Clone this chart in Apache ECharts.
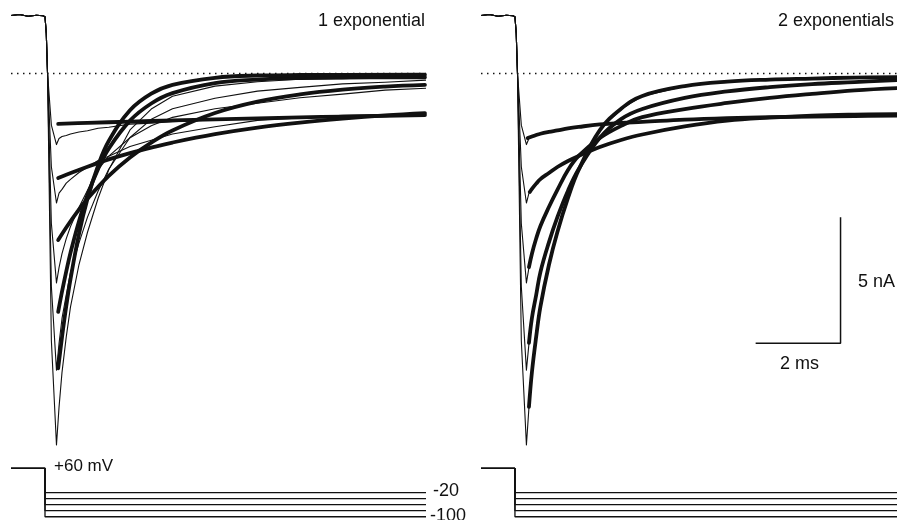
<!DOCTYPE html>
<html>
<head>
<meta charset="utf-8">
<script src="https://cdn.jsdelivr.net/npm/echarts@6/dist/echarts.min.js"></script>
<style>
  html, body { margin: 0; background: #fff; }
  #chart { width: 897px; height: 520px; }
</style>
</head>
<body>
<div id="chart"></div>
<script>
// time in ms (0 = voltage step), current in nA, voltage in mV
const holdingMv = 60
const stepLevels = [-20, -40, -60, -80, -100]

// shared outward current at +60 mV and the fast drop after the step
const baselineCurrent = [[-0.8, 2.30], [-0.6, 2.34], [-0.4, 2.27], [-0.2, 2.31], [-0.05, 2.29], [0, 2.25], [0.03, 1.6], [0.06, 0]]

// recorded tail currents (thin traces)
const rawM20 = [[0.15, -2.05], [0.27, -2.82], [0.33, -2.58], [0.4, -2.50], [0.5, -2.46], [0.6, -2.40], [0.8, -2.32], [1.0, -2.27], [1.25, -2.17], [1.5, -2.13], [2, -2.01], [2.5, -1.97], [3, -1.91], [4, -1.84], [5, -1.76], [6, -1.74], [7, -1.70], [8, -1.70], [9, -1.66]]
const rawM40 = [[0.15, -3.70], [0.27, -5.14], [0.33, -4.75], [0.4, -4.60], [0.5, -4.35], [0.6, -4.20], [0.8, -3.93], [1.0, -3.72], [1.25, -3.45], [1.5, -3.28], [2, -2.90], [2.5, -2.65], [3, -2.40], [4, -2.11], [5, -1.86], [6, -1.76], [7, -1.66], [8, -1.64], [9, -1.60]]
const rawM60 = [[0.15, -5.95], [0.27, -8.31], [0.33, -7.70], [0.4, -7.15], [0.5, -6.55], [0.6, -6.07], [0.8, -5.31], [1.0, -4.63], [1.25, -3.82], [1.5, -3.28], [2, -2.55], [2.5, -2.07], [3, -1.74], [4, -1.40], [5, -1.18], [6, -0.96], [7, -0.82], [8, -0.66], [9, -0.58]]
const rawM80 = [[0.15, -8.45], [0.27, -11.77], [0.33, -10.72], [0.4, -9.72], [0.5, -8.78], [0.6, -7.90], [0.8, -6.72], [1.0, -5.70], [1.25, -4.66], [1.5, -3.80], [2, -2.54], [2.5, -1.82], [3, -1.40], [4, -0.98], [5, -0.70], [6, -0.55], [7, -0.41], [8, -0.35], [9, -0.26]]
const rawM100 = [[0.15, -10.6], [0.27, -14.74], [0.33, -13.25], [0.4, -11.86], [0.5, -10.45], [0.6, -9.26], [0.8, -7.58], [1.0, -6.30], [1.25, -4.95], [1.5, -3.82], [2, -2.24], [2.5, -1.41], [3, -0.90], [4, -0.50], [5, -0.33], [6, -0.23], [7, -0.21], [8, -0.15], [9, -0.14]]

// single exponential fits (left panel)
const fit1M20 = [[0.31, -2.00], [1, -1.96], [2, -1.91], [3, -1.86], [4, -1.82], [5, -1.78], [6, -1.74], [7, -1.71], [8, -1.68], [8.94, -1.65]]
const fit1M40 = [[0.31, -4.15], [0.5, -4.02], [1, -3.70], [1.5, -3.41], [2, -3.16], [2.5, -2.94], [3, -2.74], [4, -2.41], [5, -2.15], [6, -1.95], [7, -1.79], [8, -1.66], [8.94, -1.57]]
const fit1M60 = [[0.31, -6.61], [0.5, -6.11], [0.75, -5.51], [1, -4.97], [1.5, -4.06], [2, -3.33], [2.5, -2.74], [3, -2.26], [4, -1.57], [5, -1.12], [6, -0.83], [7, -0.64], [8, -0.52], [8.94, -0.45]]
const fit1M80 = [[0.31, -9.46], [0.4, -8.66], [0.5, -7.85], [0.6, -7.11], [0.8, -5.86], [1, -4.82], [1.25, -3.79], [1.5, -2.98], [2, -1.87], [2.5, -1.19], [3, -0.78], [4, -0.38], [5, -0.24], [6, -0.18], [7, -0.16], [8.94, -0.15]]
const fit1M100 = [[0.31, -11.70], [0.4, -10.47], [0.5, -9.24], [0.6, -8.16], [0.8, -6.36], [1, -4.97], [1.25, -3.65], [1.5, -2.68], [2, -1.46], [2.5, -0.80], [3, -0.45], [4, -0.17], [5, -0.08], [6, -0.06], [8.94, -0.05]]

// double exponential fits (right panel)
const fit2M20 = [[0.3, -2.56], [0.4, -2.50], [0.5, -2.44], [0.6, -2.39], [0.8, -2.32], [1.0, -2.26], [1.25, -2.18], [1.5, -2.12], [2, -2.02], [2.5, -1.96], [3, -1.92], [4, -1.83], [5, -1.77], [6, -1.73], [7, -1.71], [8, -1.69], [9, -1.67]]
const fit2M40 = [[0.35, -4.70], [0.4, -4.58], [0.5, -4.37], [0.6, -4.19], [0.8, -3.95], [1.0, -3.71], [1.25, -3.47], [1.5, -3.27], [2, -2.92], [2.5, -2.64], [3, -2.42], [4, -2.10], [5, -1.87], [6, -1.75], [7, -1.67], [8, -1.63], [9, -1.61]]
const fit2M60 = [[0.33, -7.68], [0.4, -7.15], [0.5, -6.55], [0.6, -6.05], [0.8, -5.30], [1.0, -4.62], [1.25, -3.83], [1.5, -3.27], [2, -2.56], [2.5, -2.08], [3, -1.73], [4, -1.41], [5, -1.17], [6, -0.97], [7, -0.81], [8, -0.67], [9, -0.58]]
const fit2M80 = [[0.33, -10.69], [0.4, -9.70], [0.5, -8.79], [0.6, -7.88], [0.8, -6.70], [1.0, -5.70], [1.25, -4.65], [1.5, -3.80], [2, -2.55], [2.5, -1.81], [3, -1.41], [4, -0.97], [5, -0.71], [6, -0.54], [7, -0.42], [8, -0.34], [9, -0.26]]
const fit2M100 = [[0.33, -13.23], [0.4, -11.85], [0.5, -10.45], [0.6, -9.25], [0.8, -7.60], [1.0, -6.29], [1.25, -4.94], [1.5, -3.83], [2, -2.25], [2.5, -1.40], [3, -0.89], [4, -0.50], [5, -0.32], [6, -0.24], [7, -0.20], [8, -0.16], [9, -0.14]]

const zeroLine = [[-0.8, 0], [9, 0]]
const scaleBar = [[5.67, -10.7], [7.67, -10.7], [7.67, -5.7]]

const rawTraces = [rawM20, rawM40, rawM60, rawM80, rawM100]
const fits1 = [fit1M20, fit1M40, fit1M60, fit1M80, fit1M100]
const fits2 = [fit2M20, fit2M40, fit2M60, fit2M80, fit2M100]

const ink = '#111'
const font = '"Liberation Sans", Arial, sans-serif'

const chart = echarts.init(document.getElementById('chart'))

const line = (data, axis, width, extra) => Object.assign({
  type: 'line',
  xAxisIndex: axis,
  yAxisIndex: axis,
  data,
  symbol: 'none',
  smooth: false,
  silent: true,
  lineStyle: { color: ink, width },
}, extra || {})

const series = []
;[0, 1].forEach((panel) => {
  const cur = panel       // current grid
  const volt = panel + 2  // voltage grid
  series.push(line(zeroLine, cur, 1.4, { lineStyle: { color: ink, width: 1.4, type: [1.5, 4.5] } }))
  rawTraces.forEach((tail) => series.push(line(baselineCurrent.concat(tail), cur, 1.1, { lineStyle: { color: ink, width: 1.1, join: 'round' } })))
  const fits = panel === 0 ? fits1 : fits2
  fits.forEach((f) => series.push(line(f, cur, 3.8, { smooth: 0.4, lineStyle: { color: ink, width: 3.8, cap: 'round', join: 'round' } })))
  stepLevels.forEach((v) => {
    series.push(line([[-0.8, holdingMv], [0, holdingMv], [0, v], [9, v]], volt, 1.3))
  })
})
series.push(line(scaleBar, 1, 1.5))

const xCfg = (grid, max) => ({ type: 'value', gridIndex: grid, min: -1, max, show: false })

chart.setOption({
  animation: false,
  backgroundColor: '#fff',
  grid: [
    { left: 2.5, width: 422.45, top: 2.94, height: 486.36 },
    { left: 472.5, width: 425, top: 2.94, height: 486.36 },
    { left: 2.5, width: 422.45, top: 465.3, height: 54.5 },
    { left: 472.5, width: 425, top: 465.3, height: 54.5 },
  ],
  xAxis: [xCfg(0, 8.94), xCfg(1, 9), xCfg(2, 8.94), xCfg(3, 9)],
  yAxis: [
    { type: 'value', gridIndex: 0, min: -16.5, max: 2.8, show: false },
    { type: 'value', gridIndex: 1, min: -16.5, max: 2.8, show: false },
    { type: 'value', gridIndex: 2, min: -110, max: 70, show: false },
    { type: 'value', gridIndex: 3, min: -110, max: 70, show: false },
  ],
  series,
  graphic: [
    { type: 'text', right: 472, top: 12, style: { text: '1 exponential', font: '18px ' + font, fill: ink } },
    { type: 'text', left: 778, top: 12, style: { text: '2 exponentials', font: '18px ' + font, fill: ink } },
    { type: 'text', left: 858, top: 273, style: { text: '5 nA', font: '18px ' + font, fill: ink } },
    { type: 'text', left: 780, top: 355, style: { text: '2 ms', font: '18px ' + font, fill: ink } },
    { type: 'text', left: 54, top: 458, style: { text: '+60 mV', font: '17px ' + font, fill: ink } },
    { type: 'text', left: 433, top: 482, style: { text: '-20', font: '18px ' + font, fill: ink } },
    { type: 'text', left: 430, top: 507, style: { text: '-100', font: '18px ' + font, fill: ink } },
  ],
})
</script>
</body>
</html>
